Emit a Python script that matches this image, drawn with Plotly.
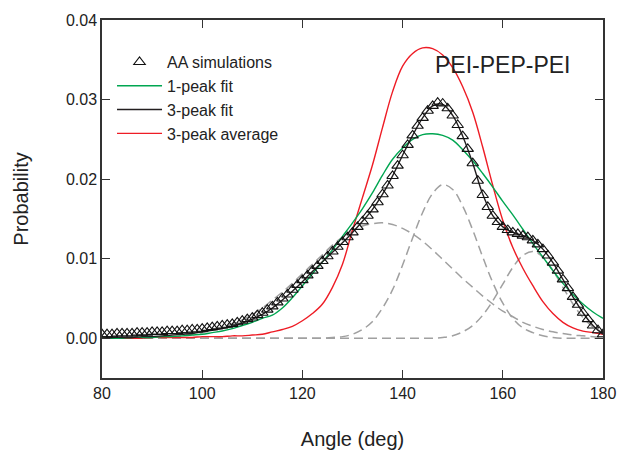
import plotly.graph_objects as go

# ---- data ----
angle_sim = list(range(80, 181))
prob_sim = [
    0.0005, 0.0005, 0.0005, 0.0006, 0.0006, 0.0006, 0.0006, 0.0007, 0.0007, 0.0007,
    0.0008, 0.0008, 0.0008, 0.0009, 0.0009, 0.0009, 0.0010, 0.0010, 0.0011, 0.0011,
    0.0012, 0.0013, 0.0014, 0.0015, 0.0016, 0.0017, 0.0018, 0.0020, 0.0022, 0.0024,
    0.0026, 0.0029, 0.0032, 0.0036, 0.0040, 0.0045, 0.0050, 0.0055, 0.0061, 0.0067,
    0.0073, 0.0079, 0.0085, 0.0091, 0.0097, 0.0103, 0.0109, 0.0115, 0.0121, 0.0127,
    0.0133, 0.0140, 0.0147, 0.0154, 0.0162, 0.0171, 0.0181, 0.0192, 0.0204, 0.0217,
    0.0230, 0.0243, 0.0255, 0.0267, 0.0277, 0.0286, 0.0292, 0.0296, 0.0295, 0.0289,
    0.0280, 0.0268, 0.0254, 0.0238, 0.0220, 0.0198, 0.0180, 0.0165, 0.0154, 0.0146,
    0.0140, 0.0136, 0.0133, 0.0131, 0.0129, 0.0127, 0.0123, 0.0118, 0.0112, 0.0104,
    0.0095, 0.0085, 0.0074, 0.0063, 0.0052, 0.0042, 0.0032, 0.0024, 0.0016, 0.0010,
    0.0005,
]

angle_fit = list(range(80, 181, 2))
fit_1peak = [
    0.0000, 0.0000, 0.0000, 0.0001, 0.0001, 0.0001, 0.0002, 0.0002, 0.0003, 0.0004,
    0.0005, 0.0007, 0.0009, 0.0012, 0.0016, 0.0020, 0.0025, 0.0029, 0.0038, 0.0051,
    0.0066, 0.0081, 0.0096, 0.0111, 0.0128, 0.0145, 0.0163, 0.0183, 0.0205, 0.0225,
    0.0239, 0.0250, 0.0256, 0.0257, 0.0255, 0.0249, 0.0237, 0.0223, 0.0207, 0.0190,
    0.0172, 0.0155, 0.0137, 0.0119, 0.0102, 0.0085, 0.0069, 0.0055, 0.0043, 0.0033,
    0.0025,
]
fit_3peak = [
    0.0000, 0.0001, 0.0001, 0.0001, 0.0002, 0.0002, 0.0003, 0.0004, 0.0005, 0.0006,
    0.0008, 0.0010, 0.0012, 0.0015, 0.0019, 0.0024, 0.0030, 0.0038, 0.0048, 0.0059,
    0.0071, 0.0084, 0.0096, 0.0108, 0.0120, 0.0133, 0.0147, 0.0162, 0.0181, 0.0204,
    0.0230, 0.0255, 0.0277, 0.0292, 0.0294, 0.0280, 0.0254, 0.0220, 0.0181, 0.0154,
    0.0140, 0.0133, 0.0129, 0.0123, 0.0112, 0.0095, 0.0074, 0.0052, 0.0032, 0.0016,
    0.0005,
]
avg_3peak = [
    0.0000, 0.0000, 0.0000, 0.0000, 0.0000, 0.0001, 0.0001, 0.0001, 0.0001, 0.0001,
    0.0002, 0.0002, 0.0002, 0.0003, 0.0003, 0.0004, 0.0005, 0.0008, 0.0011, 0.0015,
    0.0022, 0.0031, 0.0043, 0.0064, 0.0093, 0.0136, 0.0177, 0.0218, 0.0265, 0.0310,
    0.0342, 0.0358, 0.0365, 0.0364, 0.0356, 0.0340, 0.0316, 0.0284, 0.0240, 0.0192,
    0.0148, 0.0114, 0.0088, 0.0066, 0.0046, 0.0031, 0.0020, 0.0013, 0.0009, 0.0007,
    0.0005,
]
peak_a = [
    0.0000, 0.0000, 0.0000, 0.0000, 0.0001, 0.0001, 0.0002, 0.0002, 0.0003, 0.0005,
    0.0007, 0.0010, 0.0013, 0.0018, 0.0023, 0.0030, 0.0038, 0.0048, 0.0058, 0.0069,
    0.0081, 0.0093, 0.0105, 0.0117, 0.0127, 0.0135, 0.0141, 0.0144, 0.0145, 0.0143,
    0.0138, 0.0131, 0.0122, 0.0111, 0.0099, 0.0087, 0.0075, 0.0064, 0.0053, 0.0043,
    0.0034, 0.0027, 0.0020, 0.0015, 0.0011, 0.0008, 0.0006, 0.0004, 0.0003, 0.0002,
    0.0001,
]
peak_b = [
    0.0000, 0.0000, 0.0000, 0.0000, 0.0000, 0.0000, 0.0000, 0.0000, 0.0000, 0.0000,
    0.0000, 0.0000, 0.0000, 0.0000, 0.0000, 0.0000, 0.0000, 0.0000, 0.0000, 0.0000,
    0.0000, 0.0000, 0.0000, 0.0001, 0.0002, 0.0005, 0.0011, 0.0021, 0.0038, 0.0061,
    0.0092, 0.0126, 0.0158, 0.0182, 0.0193, 0.0187, 0.0166, 0.0136, 0.0102, 0.0070,
    0.0044, 0.0025, 0.0013, 0.0007, 0.0003, 0.0001, 0.0000, 0.0000, 0.0000, 0.0000,
    0.0000,
]
peak_c = [
    0.0000, 0.0000, 0.0000, 0.0000, 0.0000, 0.0000, 0.0000, 0.0000, 0.0000, 0.0000,
    0.0000, 0.0000, 0.0000, 0.0000, 0.0000, 0.0000, 0.0000, 0.0000, 0.0000, 0.0000,
    0.0000, 0.0000, 0.0000, 0.0000, 0.0000, 0.0000, 0.0000, 0.0000, 0.0000, 0.0000,
    0.0000, 0.0000, 0.0000, 0.0000, 0.0001, 0.0003, 0.0008, 0.0016, 0.0029, 0.0047,
    0.0068, 0.0089, 0.0104, 0.0109, 0.0102, 0.0085, 0.0064, 0.0043, 0.0026, 0.0014,
    0.0007,
]

x_ticks = [80, 100, 120, 140, 160, 180]
y_ticks = [0.00, 0.01, 0.02, 0.03, 0.04]

FONT = "Liberation Sans, Arial, sans-serif"
TXT = "#222222"

fig = go.Figure()

for comp in (peak_a, peak_b, peak_c):
    fig.add_trace(go.Scatter(
        x=angle_fit, y=comp, mode="lines", showlegend=False, hoverinfo="skip",
        line=dict(color="#a0a0a0", width=1.5, dash="9px,5px", shape="spline"),
    ))

fig.add_trace(go.Scatter(
    x=angle_fit, y=avg_3peak, mode="lines", name="3-peak average", legendrank=4,
    line=dict(color="#ee1c25", width=1.4, shape="spline"),
))
fig.add_trace(go.Scatter(
    x=angle_fit, y=fit_1peak, mode="lines", name="1-peak fit", legendrank=2,
    line=dict(color="#00a651", width=1.4, shape="spline"),
))
fig.add_trace(go.Scatter(
    x=angle_fit, y=fit_3peak, mode="lines", name="3-peak fit", legendrank=3,
    line=dict(color="#231f20", width=1.4, shape="spline"),
))
fig.add_trace(go.Scatter(
    x=angle_sim, y=prob_sim, mode="markers", name="AA simulations", legendrank=1,
    marker=dict(symbol="triangle-up-open", size=10, color="#111111",
                line=dict(width=1.1, color="#111111")),
))

axis_common = dict(
    showline=True, linecolor="#333333", linewidth=1.5, mirror="ticks",
    ticks="inside", ticklen=8, tickwidth=1.3, tickcolor="#333333",
    showgrid=False, zeroline=False, automargin=False,
    tickfont=dict(family=FONT, size=16, color=TXT),
)

fig.update_xaxes(
    range=[80, 180], tickvals=x_ticks,
    title=dict(text="Angle (deg)", font=dict(family=FONT, size=20, color=TXT), standoff=31),
    **axis_common,
)
fig.update_yaxes(
    range=[-0.005, 0.04], tickvals=y_ticks, tickformat=".2f",
    title=dict(text="Probability", font=dict(family=FONT, size=20, color=TXT), standoff=32),
    **axis_common,
)

fig.add_annotation(
    x=0.80, y=0.874, xref="paper", yref="paper", text="PEI-PEP-PEI",
    xanchor="center", yanchor="middle",
    showarrow=False, font=dict(family=FONT, size=23, color=TXT),
)

fig.update_layout(
    width=621, height=453,
    margin=dict(l=102, r=18, t=20, b=75),
    paper_bgcolor="white", plot_bgcolor="white",
    font=dict(family=FONT, color=TXT),
    legend=dict(
        x=0.02, y=0.93, xanchor="left", yanchor="top",
        bgcolor="rgba(0,0,0,0)", borderwidth=0,
        font=dict(family=FONT, size=16, color=TXT),
        itemwidth=45, tracegroupgap=0,
    ),
    showlegend=True,
)

fig.write_html("out.html")
